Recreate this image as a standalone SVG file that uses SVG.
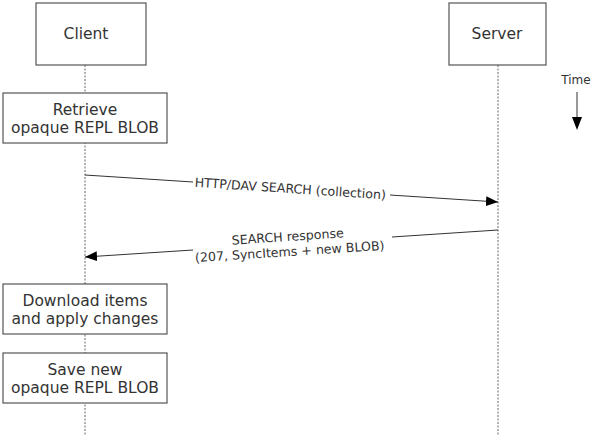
<svg xmlns="http://www.w3.org/2000/svg" width="600" height="440" viewBox="0 0 600 440">
<defs>
<marker id="ah" viewBox="0 0 12 10" refX="12" refY="5" markerWidth="12" markerHeight="10" markerUnits="userSpaceOnUse" orient="auto">
<path d="M0,0 L12,5 L0,10 Z" fill="#000"/>
</marker>
<style>
.box{fill:#fff;stroke:#555;stroke-width:1.2}
.t{font-family:"DejaVu Sans",Verdana,sans-serif;font-size:15.5px;fill:#333;text-anchor:middle}
.l{font-family:"DejaVu Sans",Verdana,sans-serif;font-size:12.6px;fill:#333;text-anchor:middle}
.tm{font-family:"DejaVu Sans",Verdana,sans-serif;font-size:12px;fill:#333;text-anchor:middle}
.life{stroke:#666;stroke-width:1;stroke-dasharray:2,1.5;fill:none}
.msg{stroke:#333;stroke-width:1;fill:none}
</style>
</defs>
<rect width="600" height="440" fill="#fff"/>
<g id="lifelines">
<line class="life" x1="85" y1="65" x2="85" y2="435"/>
<line class="life" x1="498" y1="65" x2="498" y2="435"/>
</g>
<g id="client"><rect class="box" x="36" y="3" width="110" height="62"/><text class="t" x="86" y="39">Client</text></g>
<g id="server"><rect class="box" x="449" y="3" width="97" height="62"/><text class="t" x="497" y="39">Server</text></g>
<g id="retrieve"><rect class="box" x="3" y="93" width="164" height="50"/><text class="t" x="85" y="115">Retrieve</text><text class="t" x="85" y="133">opaque REPL BLOB</text></g>
<g id="download"><rect class="box" x="3" y="284" width="164" height="50"/><text class="t" x="85" y="306">Download items</text><text class="t" x="85" y="324">and apply changes</text></g>
<g id="save"><rect class="box" x="3" y="353" width="164" height="50"/><text class="t" x="85" y="375">Save new</text><text class="t" x="85" y="393">opaque REPL BLOB</text></g>
<g id="time"><text class="tm" x="576" y="84">Time</text><line x1="577" y1="92" x2="577" y2="118" stroke="#333" stroke-width="1"/><path d="M572,117 L582,117 L577,130 Z" fill="#000"/></g>
<g id="connectors">
<line class="msg" x1="85" y1="175" x2="193" y2="182"/>
<line class="msg" x1="390" y1="195" x2="498" y2="202" marker-end="url(#ah)"/>
<text class="l" transform="translate(290,193) rotate(3.74)">HTTP/DAV SEARCH (collection)</text>
<line class="msg" x1="498" y1="230" x2="392" y2="237"/>
<line class="msg" x1="193" y1="250" x2="85" y2="257" marker-end="url(#ah)"/>
<text class="l" transform="translate(288,241) rotate(-3.74)">SEARCH response</text>
<text class="l" transform="translate(290,256) rotate(-3.74)">(207, SyncItems + new BLOB)</text>
</g>
</svg>
